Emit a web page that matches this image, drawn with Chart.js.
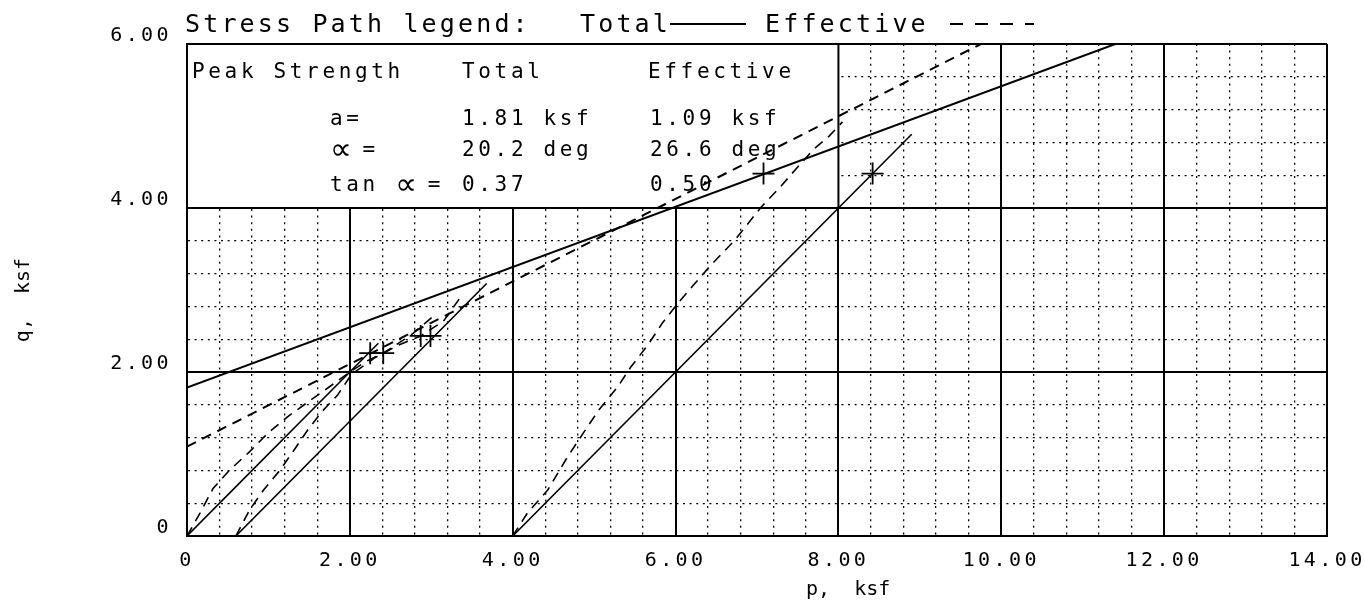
<!DOCTYPE html>
<html>
<head>
<meta charset="utf-8">
<script src="https://cdn.jsdelivr.net/npm/chart.js@4.4.1/dist/chart.umd.min.js"></script>
<style>
  html, body { margin: 0; padding: 0; background: #fff; }
  #wrap { width: 1364px; height: 603px; }
</style>
</head>
<body>
<div id="wrap"><canvas id="pqChart"></canvas></div>
<script>
// Failure envelopes (Kf lines)
const totalEnvP = [0, 11.4];
const totalEnvQ = [1.81, 6.0];
const effEnvP = [0, 9.75];
const effEnvQ = [1.09, 6.0];

// Total stress paths
const total1P = [0, 2.35];
const total1Q = [0, 2.35];
const total2P = [0.6, 3.68];
const total2Q = [0, 3.08];
const total3P = [4.0, 8.9];
const total3Q = [0, 4.9];

// Effective stress paths
const eff1P = [0, 0.16, 0.32, 0.52, 0.76, 1.0, 1.23, 1.48, 1.75, 2.0, 2.2, 2.41, 2.75, 3.05];
const eff1Q = [0, 0.28, 0.58, 0.8, 1.02, 1.26, 1.45, 1.63, 1.82, 2.0, 2.13, 2.23, 2.45, 2.7];
const eff2P = [0.6, 0.77, 0.94, 1.14, 1.33, 1.48, 1.66, 1.85, 2.02, 2.3, 2.6, 2.87, 3.15, 3.35];
const eff2Q = [0, 0.32, 0.56, 0.8, 1.07, 1.29, 1.52, 1.72, 1.97, 2.17, 2.33, 2.44, 2.62, 2.9];
const eff3P = [4.0, 4.18, 4.43, 4.67, 4.87, 5.06, 5.29, 5.45, 5.66, 5.84, 6.03, 6.22, 6.43, 6.72, 7.05, 7.28, 7.5, 7.7, 7.88, 8.05];
const eff3Q = [0, 0.28, 0.56, 0.96, 1.26, 1.54, 1.82, 2.06, 2.33, 2.6, 2.84, 3.06, 3.3, 3.6, 4.01, 4.25, 4.5, 4.72, 4.87, 5.05];

// Peak points (+)
const peakP = [2.25, 2.41, 2.87, 2.99, 7.08, 8.42];
const peakQ = [2.23, 2.23, 2.44, 2.44, 4.42, 4.42];

// Peak strength table
const tableHead = ['Peak Strength', 'Total', 'Effective'];
const tableNames = ['a=', '\u221D =', 'tan \u221D ='];
const tableTotal = ['1.81 ksf', '20.2 deg', '0.37'];
const tableEff = ['1.09 ksf', '26.6 deg', '0.50'];

const FONT = '"DejaVu Sans Mono", "Liberation Mono", monospace';

function toPts(ps, qs) {
  return ps.map((p, i) => ({ x: p, y: qs[i] }));
}

function isMajor(v) {
  return Math.abs(v / 2 - Math.round(v / 2)) < 1e-6;
}

function fmt(v) {
  return Math.abs(v) < 1e-9 ? '0' : v.toFixed(2);
}

function pathSet(ps, qs, dashed, width) {
  return {
    data: toPts(ps, qs),
    showLine: true,
    borderColor: '#000',
    borderWidth: width || 1.6,
    borderDash: dashed ? [10, 7] : [],
    pointRadius: 0,
    fill: false
  };
}

// monospaced text drawn one char at a time (plotter look), the alpha sign is bigger
function drawMono(ctx, text, x, y, size, adv) {
  for (let i = 0; i < text.length; i++) {
    const ch = text[i];
    if (ch === ' ') continue;
    if (ch === '\u221D') {
      ctx.font = (size * 1.45) + 'px "DejaVu Sans"';
      ctx.fillText(ch, x + i * adv, y + 3);
    } else {
      ctx.font = size + 'px ' + FONT;
      ctx.fillText(ch, x + i * adv, y);
    }
  }
}

const plotterText = {
  id: 'plotterText',
  beforeDraw(chart) {
    chart.ctx.letterSpacing = '3.4px';
  },
  beforeDatasetsDraw(chart) {
    const { ctx, scales: { x, y } } = chart;
    const left = x.getPixelForValue(0), right = x.getPixelForValue(8);
    const top = y.getPixelForValue(6), bottom = y.getPixelForValue(4);
    ctx.save();
    ctx.letterSpacing = '0px';
    ctx.fillStyle = '#fff';
    ctx.fillRect(left, top, right - left, bottom - top);
    ctx.strokeStyle = '#000';
    ctx.lineWidth = 2;
    ctx.strokeRect(left, top, right - left, bottom - top);

    ctx.fillStyle = '#000';
    ctx.textAlign = 'left';
    ctx.textBaseline = 'alphabetic';
    drawMono(ctx, tableHead[0], 192, 78, 21, 16.3);
    drawMono(ctx, tableHead[1], 462, 78, 21, 16.3);
    drawMono(ctx, tableHead[2], 648, 78, 21, 16.3);
    const rowsY = [125, 156, 191];
    tableNames.forEach((name, i) => {
      drawMono(ctx, name, 330, rowsY[i], 21, 16.3);
      drawMono(ctx, tableTotal[i], 462, rowsY[i], 21, 16.3);
      drawMono(ctx, tableEff[i], 650, rowsY[i], 21, 16.3);
    });
    ctx.restore();
  },
  afterDraw(chart) {
    const ctx = chart.ctx;
    ctx.save();
    ctx.letterSpacing = '0px';
    ctx.fillStyle = '#000';
    ctx.textAlign = 'left';
    ctx.textBaseline = 'alphabetic';
    drawMono(ctx, 'Stress Path legend:', 185, 32, 25, 18.2);
    drawMono(ctx, 'Total', 580, 32, 25, 18.2);
    drawMono(ctx, 'Effective', 765, 32, 25, 18.2);
    ctx.strokeStyle = '#000';
    ctx.lineWidth = 2;
    ctx.beginPath();
    ctx.moveTo(670, 24);
    ctx.lineTo(746, 24);
    ctx.stroke();
    ctx.setLineDash([13, 12]);
    ctx.beginPath();
    ctx.moveTo(950, 24);
    ctx.lineTo(1034, 24);
    ctx.stroke();
    ctx.setLineDash([]);

    // axis titles
    ctx.font = '20px ' + FONT;
    ctx.fillText('p,  ksf', 806, 595);
    ctx.translate(29, 300);
    ctx.rotate(-Math.PI / 2);
    ctx.textAlign = 'center';
    ctx.fillText('q,  ksf', 0, 0);
    ctx.restore();
  }
};

const gridOpts = {
  color: '#000',
  lineWidth: (c) => (c.tick && isMajor(c.tick.value) ? 2 : 1.3),
  drawTicks: false
};
const borderOpts = {
  display: true,
  color: '#000',
  width: 2,
  dash: (c) => (c.tick && !isMajor(c.tick.value) ? [2, 4.6] : [])
};

const ctxPQ = document.getElementById('pqChart').getContext('2d');
const pqChart = new Chart(ctxPQ, {
  type: 'scatter',
  data: {
    datasets: [
      pathSet(totalEnvP, totalEnvQ, false, 2),
      pathSet(effEnvP, effEnvQ, true, 2),
      pathSet(total1P, total1Q, false),
      pathSet(total2P, total2Q, false),
      pathSet(total3P, total3Q, false),
      pathSet(eff1P, eff1Q, true),
      pathSet(eff2P, eff2Q, true),
      pathSet(eff3P, eff3Q, true),
      {
        data: toPts(peakP, peakQ),
        showLine: false,
        pointStyle: 'cross',
        pointRadius: 11,
        borderColor: '#000',
        borderWidth: 1.8,
        backgroundColor: '#000'
      }
    ]
  },
  options: {
    responsive: true,
    maintainAspectRatio: false,
    animation: false,
    layout: { padding: { top: 44, right: 37, left: 0, bottom: 0 } },
    plugins: {
      legend: { display: false },
      tooltip: { enabled: false }
    },
    scales: {
      x: {
        type: 'linear',
        min: 0,
        max: 14,
        grid: gridOpts,
        border: borderOpts,
        ticks: {
          stepSize: 0.4,
          autoSkip: false,
          maxRotation: 0,
          padding: 13,
          color: '#000',
          font: { family: FONT, size: 20 },
          callback: (v) => (isMajor(v) ? fmt(v) : '')
        },
        afterFit: (s) => { s.height = 67; s.paddingLeft = 0; s.paddingRight = 0; }
      },
      y: {
        type: 'linear',
        min: 0,
        max: 6,
        grid: gridOpts,
        border: borderOpts,
        ticks: {
          stepSize: 0.4,
          autoSkip: false,
          padding: 15,
          labelOffset: -8,
          color: '#000',
          font: { family: FONT, size: 20 },
          callback: (v) => (isMajor(v) ? fmt(v) : '')
        },
        afterFit: (s) => { s.width = 187; s.paddingTop = 0; s.paddingBottom = 0; }
      }
    }
  },
  plugins: [plotterText]
});
</script>
</body>
</html>
